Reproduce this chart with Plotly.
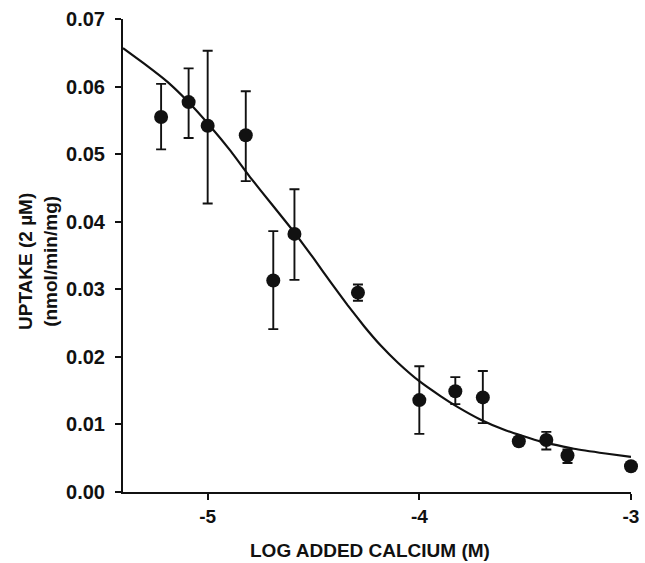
import plotly.graph_objects as go

# Measured data points (log added calcium, uptake)
log_ca = [-5.22, -5.09, -5.00, -4.82, -4.69, -4.59, -4.29, -4.00, -3.83, -3.70, -3.53, -3.40, -3.30, -3.00]
uptake = [0.0555, 0.0577, 0.0542, 0.0528, 0.0313, 0.0382, 0.0295, 0.0136, 0.0149, 0.0140, 0.0075, 0.0077, 0.0054, 0.0038]
err_plus = [0.0049, 0.0050, 0.0111, 0.0065, 0.0073, 0.0066, 0.0012, 0.0050, 0.0021, 0.0039, 0.0005, 0.0012, 0.0009, 0.0]
err_minus = [0.0048, 0.0053, 0.0115, 0.0068, 0.0072, 0.0068, 0.0012, 0.0050, 0.0019, 0.0038, 0.0005, 0.0014, 0.0011, 0.0]

# Fitted curve
curve_x = [-5.40, -5.30, -5.19, -5.10, -4.99, -4.89, -4.80, -4.70, -4.59, -4.50, -4.42, -4.34, -4.26,
           -4.18, -4.10, -4.00, -3.90, -3.82, -3.71, -3.59, -3.43, -3.27, -3.12, -3.00]
curve_y = [0.0657, 0.0634, 0.0607, 0.0580, 0.0542, 0.0504, 0.0466, 0.0427, 0.0384, 0.0346, 0.0311, 0.0277, 0.0245,
           0.0216, 0.0191, 0.0164, 0.0142, 0.0126, 0.0107, 0.0091, 0.0075, 0.0064, 0.0057, 0.0052]

x_ticks = [-5, -4, -3]
y_ticks = [0.00, 0.01, 0.02, 0.03, 0.04, 0.05, 0.06, 0.07]

FONT = "Liberation Sans, Arial, sans-serif"
INK = "#111111"

fig = go.Figure()
fig.add_trace(go.Scatter(
    x=curve_x, y=curve_y, mode="lines",
    line=dict(color=INK, width=2.2, shape="spline", smoothing=0.3),
    hoverinfo="skip", cliponaxis=False,
))
fig.add_trace(go.Scatter(
    x=log_ca, y=uptake, mode="markers",
    marker=dict(color=INK, size=14, line=dict(width=0)),
    error_y=dict(type="data", symmetric=False, array=err_plus, arrayminus=err_minus,
                 color=INK, thickness=1.9, width=5),
    cliponaxis=False,
))

fig.update_layout(
    width=645, height=563,
    margin=dict(l=123, r=14, t=19, b=71, pad=0),
    paper_bgcolor="white", plot_bgcolor="white",
    showlegend=False,
    font=dict(family=FONT, color=INK, size=20),
)
fig.update_xaxes(
    range=[-5.4, -3.0], tickvals=x_ticks, ticktext=[str(v) for v in x_ticks],
    showgrid=False, zeroline=False, showline=True, linecolor=INK, linewidth=2,
    ticks="outside", ticklen=6, tickwidth=2, tickcolor=INK, automargin=False,
    tickfont=dict(family=FONT, size=19, color=INK, weight="bold"),
)
fig.update_yaxes(
    range=[0, 0.07], tickvals=y_ticks, ticktext=[f"{v:.2f}" for v in y_ticks],
    showgrid=False, zeroline=False, showline=True, linecolor=INK, linewidth=2,
    ticks="outside", ticklen=6, tickwidth=2, tickcolor=INK, automargin=False,
    ticklabelstandoff=6,
    tickfont=dict(family=FONT, size=20, color=INK, weight="bold"),
)

fig.add_annotation(
    text="UPTAKE (2 µM)<br>(nmol/min/mg)", textangle=-90,
    xref="paper", yref="paper", x=(38 - 123) / 508, y=(492 - 262) / 473,
    xanchor="center", yanchor="middle", showarrow=False,
    font=dict(family=FONT, size=19, color=INK, weight="bold"),
)
fig.add_annotation(
    text="LOG ADDED CALCIUM (M)",
    xref="paper", yref="paper", x=(370 - 123) / 508, y=-(550 - 492) / 473,
    xanchor="center", yanchor="middle", showarrow=False,
    font=dict(family=FONT, size=19, color=INK, weight="bold"),
)

fig.write_html(
    "out.html",
    config={"displayModeBar": False},
    post_script="document.body.style.margin='0';document.body.style.overflow='hidden';",
)
